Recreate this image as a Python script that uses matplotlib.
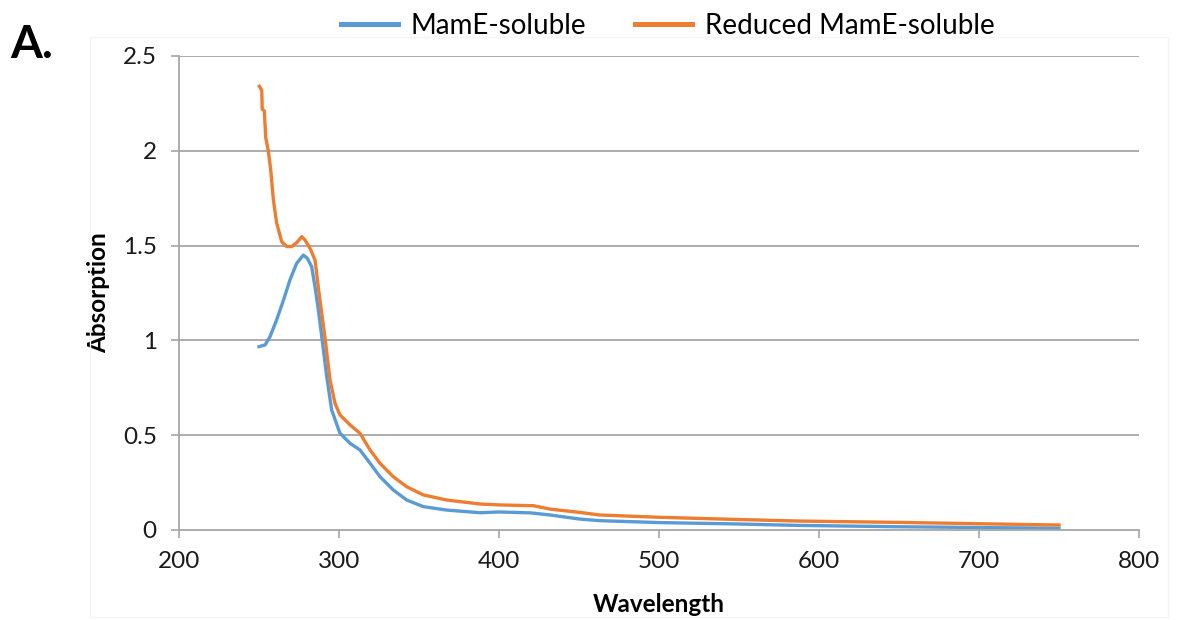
import matplotlib.pyplot as plt
from matplotlib.patches import Rectangle

plt.rcParams['font.family'] = ['Lato', 'DejaVu Sans']

# Espectros (comprimento de onda em nm, absorção)
wl_soluble = [250, 253.8, 256.9, 261, 265.2, 269.4, 273.5, 277.7, 280.2, 282.9,
              285, 287.1, 289.5, 292.3, 295.4, 300.6, 306.9, 313.1, 319.4, 325.6,
              333.9, 342.3, 352.7, 367.3, 388.1, 400, 420, 432, 450, 463,
              500, 547, 588, 650, 700, 750]
abs_soluble = [0.967, 0.976, 1.02, 1.108, 1.21, 1.32, 1.406, 1.45, 1.433, 1.389,
               1.283, 1.16, 1.0, 0.81, 0.633, 0.51, 0.457, 0.422, 0.352, 0.281,
               0.211, 0.158, 0.123, 0.105, 0.091, 0.095, 0.090, 0.079, 0.058, 0.049,
               0.039, 0.032, 0.024, 0.017, 0.013, 0.009]

wl_reduced = [250.2, 251.7, 252, 253.3, 254.2, 255.8, 257.3, 259, 261, 264.2,
              267.3, 270.4, 273.5, 276.7, 278.7, 281.9, 285, 287.5, 289.2, 291.3,
              294.4, 297.5, 300.6, 306.9, 313.1, 319.4, 325.6, 333.9, 342.3, 352.7,
              367.3, 388.1, 400.6, 421.5, 432, 450, 463, 500, 546, 588,
              650, 700, 750]
abs_reduced = [2.34, 2.32, 2.22, 2.21, 2.07, 2.0, 1.90, 1.74, 1.62, 1.52,
               1.495, 1.495, 1.515, 1.547, 1.53, 1.485, 1.424, 1.25, 1.143, 1.01,
               0.79, 0.668, 0.607, 0.554, 0.51, 0.422, 0.352, 0.281, 0.228, 0.185,
               0.158, 0.137, 0.132, 0.128, 0.110, 0.093, 0.079, 0.067, 0.056, 0.047,
               0.040, 0.033, 0.026]

x_ticks = [200, 300, 400, 500, 600, 700, 800]
y_ticks = [0, 0.5, 1, 1.5, 2, 2.5]
y_ticklabels = ['0', '0.5', '1', '1.5', '2', '2.5']

BLUE = '#5B9BD5'
ORANGE = '#ED7D31'
GREY = '#A6A6A6'

fig = plt.figure(figsize=(11.77, 6.2), dpi=100)
ax = fig.add_axes([0.1521, 0.1452, 0.8156, 0.7645])

# moldura muito clara da área do gráfico
fig.patches.append(Rectangle((90/1177, 3/620), 1078/1177, 580/620, transform=fig.transFigure,
                             fill=False, edgecolor='#F4F4F4', linewidth=1))

ax.plot(wl_soluble, abs_soluble, color=BLUE, lw=2.4, label='MamE-soluble')
ax.plot(wl_reduced, abs_reduced, color=ORANGE, lw=2.4, label='Reduced MamE-soluble')

ax.set_xlim(200, 800)
ax.set_ylim(0, 2.5)
ax.set_xticks(x_ticks)
ax.set_yticks(y_ticks)
ax.set_yticklabels(y_ticklabels)

for y in y_ticks[1:]:
    ax.axhline(y, color=GREY, lw=1.3, zorder=0)

for s in ['top', 'right']:
    ax.spines[s].set_visible(False)
for s in ['left', 'bottom']:
    ax.spines[s].set_color(GREY)
    ax.spines[s].set_linewidth(1.3)

ax.tick_params(axis='both', direction='out', length=6, width=1.2, color=GREY,
               labelsize=17.5, labelcolor='#1a1a1a')
ax.tick_params(axis='y', pad=10)
ax.tick_params(axis='x', pad=9)

ax.set_xlabel('Wavelength', fontsize=17.5, fontweight='bold', labelpad=15)
ax.set_ylabel('Absorption', fontsize=17.5, fontweight='bold', labelpad=9)

leg = fig.legend(loc='center', bbox_to_anchor=(0.5675, 1 - 26/620), ncol=2, frameon=False,
                 fontsize=20, handlelength=2.05, handletextpad=0.47, columnspacing=1.76)
for h in leg.get_lines():
    h.set_linewidth(3.6)

fig.text(0.009, 1 - 57.5/620, 'A.', fontsize=33, fontweight='bold', va='baseline', ha='left')

fig.savefig('out.png', dpi=100)
